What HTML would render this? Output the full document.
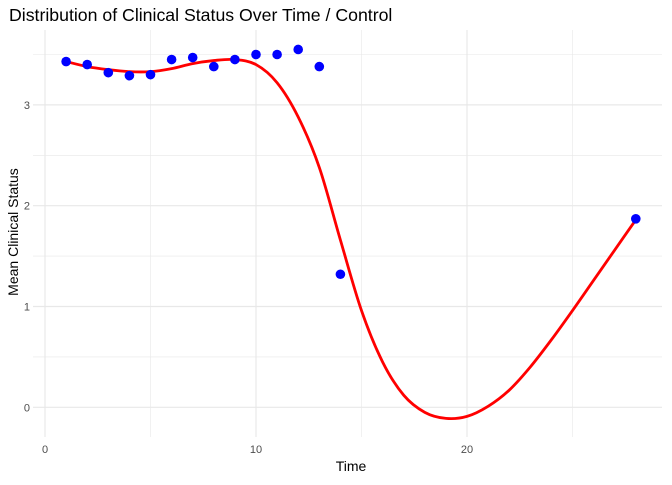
<!DOCTYPE html>
<html><head><meta charset="utf-8"><style>
body{margin:0;background:#fff;font-family:"Liberation Sans",sans-serif}
</style></head><body>
<svg id="c" width="672" height="480" xmlns="http://www.w3.org/2000/svg">
<text x="9" y="21" font-size="17.7" fill="#000">Distribution of Clinical Status Over Time / Control</text>
<g id="grid"></g>
<g id="axes"></g>
<path id="curve" fill="none" stroke="#ff0000" stroke-width="2.8"/>
<g id="pts"></g>
<text x="351" y="471" font-size="14" text-anchor="middle">Time</text>
<text transform="translate(18,232) rotate(-90)" font-size="14" text-anchor="middle">Mean Clinical Status</text>
</svg>
<script>
const ptTimes=[1,2,3,4,5,6,7,8,9,10,11,12,13,14,28];
const ptValues=[3.43,3.40,3.32,3.29,3.30,3.45,3.47,3.38,3.45,3.50,3.50,3.55,3.38,1.32,1.87];
const curveTimes=[1,2,3,4,5,6,7,8,9,10,11,12,13,14,15,16,17,18,19,20,21,22,23,24,25,26,27,28];
const curveValues=[3.43,3.38,3.35,3.33,3.33,3.36,3.41,3.44,3.45,3.40,3.22,2.88,2.38,1.66,0.96,0.45,0.12,-0.05,-0.11,-0.09,0.01,0.17,0.40,0.67,0.96,1.26,1.56,1.86];
const xTicks=[0,10,20];
const yTicks=[0,1,2,3];
const X=t=>45+21.1*t;
const Y=v=>407.3-100.8*v;
const NS='http://www.w3.org/2000/svg';
const grid=document.getElementById('grid'),axes=document.getElementById('axes'),pts=document.getElementById('pts');
function line(x1,y1,x2,y2,w){const l=document.createElementNS(NS,'line');l.setAttribute('x1',x1);l.setAttribute('y1',y1);l.setAttribute('x2',x2);l.setAttribute('y2',y2);l.setAttribute('stroke','#e8e8e8');l.setAttribute('stroke-width',w);grid.appendChild(l);return l;}
for(let t=0;t<=25;t+=5){const l=line(X(t),30,X(t),437,t%10===0?1.2:0.6);

}
for(let v=0;v<=3.5;v+=0.5){const l=line(33,Y(v),662,Y(v),v%1===0?1.2:0.6);

}
xTicks.forEach(t=>{const e=document.createElementNS(NS,'text');e.setAttribute('x',X(t));e.setAttribute('y',453);e.setAttribute('font-size','11');e.setAttribute('fill','#4d4d4d');e.setAttribute('text-anchor','middle');e.textContent=t;


axes.appendChild(e);});
yTicks.forEach(v=>{const e=document.createElementNS(NS,'text');e.setAttribute('x',30);e.setAttribute('y',Y(v)+4);e.setAttribute('font-size','11');e.setAttribute('fill','#4d4d4d');e.setAttribute('text-anchor','end');e.textContent=v;


axes.appendChild(e);});
const P=curveTimes.map((t,i)=>[X(t),Y(curveValues[i])]);
let d='M'+P[0][0]+','+P[0][1];
for(let i=0;i<P.length-1;i++){const p0=P[Math.max(i-1,0)],p1=P[i],p2=P[i+1],p3=P[Math.min(i+2,P.length-1)];
d+=` C${p1[0]+(p2[0]-p0[0])/6},${p1[1]+(p2[1]-p0[1])/6} ${p2[0]-(p3[0]-p1[0])/6},${p2[1]-(p3[1]-p1[1])/6} ${p2[0]},${p2[1]}`;}
document.getElementById('curve').setAttribute('d',d);
ptTimes.forEach((t,i)=>{const c=document.createElementNS(NS,'circle');c.setAttribute('cx',X(t));c.setAttribute('cy',Y(ptValues[i]));c.setAttribute('r',4.8);c.setAttribute('fill','#0000ff');


pts.appendChild(c);});
</script>
</body></html>
